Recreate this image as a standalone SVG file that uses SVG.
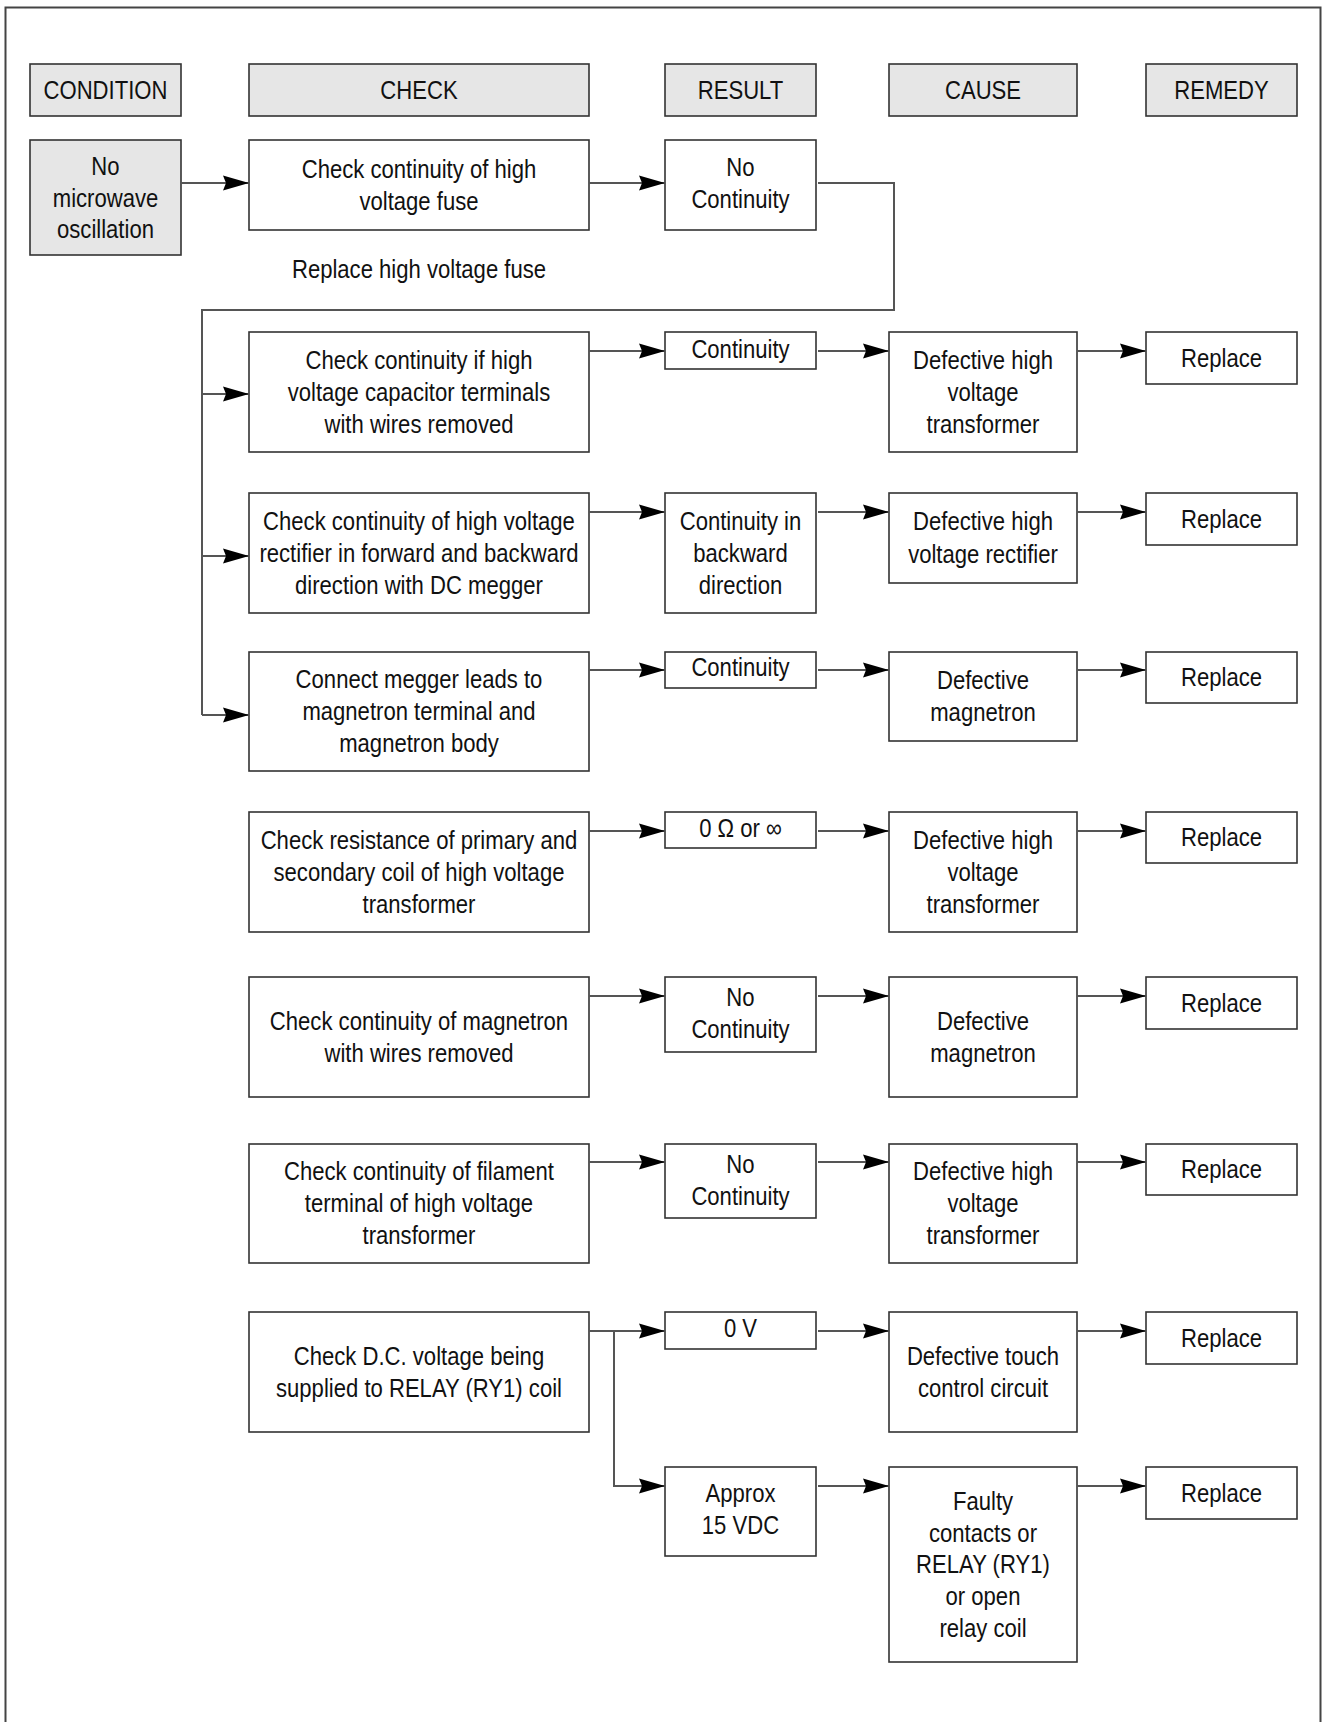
<svg xmlns="http://www.w3.org/2000/svg" width="1322" height="1722" viewBox="0 0 1322 1722">
<defs>
<marker id="arr" markerUnits="userSpaceOnUse" markerWidth="26" markerHeight="16" refX="26" refY="8" orient="auto">
<path d="M0,0.5 L26,8 L0,15.5 L3,8 Z" fill="#000"/>
</marker>
<style>
.b{fill:#fff;stroke:#333;stroke-width:1.6}
.h{fill:#e6e6e6;stroke:#333;stroke-width:1.6}
.t{font-family:"Liberation Sans",Arial,sans-serif;font-size:26px;text-anchor:middle;fill:#111}
.k1{transform:matrix(0.85,0,0,1,15.825,0)}
.k2{transform:matrix(0.85,0,0,1,62.85,0)}
.k3{transform:matrix(0.85,0,0,1,111.075,0)}
.k4{transform:matrix(0.85,0,0,1,147.45,0)}
.k5{transform:matrix(0.85,0,0,1,183.225,0)}
.c{fill:none;stroke:#555;stroke-width:2}
.a{fill:none;stroke:#555;stroke-width:2;marker-end:url(#arr)}
</style>
</defs>
<rect width="1322" height="1722" fill="#fff"/>
<path d="M5.5,1722 V7.5 H1320.5 V1722" fill="none" stroke="#444" stroke-width="2"/>

<g id="hdr-condition"><rect class="h" x="30" y="64" width="151" height="52"/><g class="k1"><text class="t" x="105.5" y="99">CONDITION</text></g></g>
<g id="hdr-check"><rect class="h" x="249" y="64" width="340" height="52"/><g class="k2"><text class="t" x="419" y="99">CHECK</text></g></g>
<g id="hdr-result"><rect class="h" x="665" y="64" width="151" height="52"/><g class="k3"><text class="t" x="740.5" y="99">RESULT</text></g></g>
<g id="hdr-cause"><rect class="h" x="889" y="64" width="188" height="52"/><g class="k4"><text class="t" x="983" y="99">CAUSE</text></g></g>
<g id="hdr-remedy"><rect class="h" x="1146" y="64" width="151" height="52"/><g class="k5"><text class="t" x="1221.5" y="99">REMEDY</text></g></g>

<g id="cond1"><rect class="h" x="30" y="140" width="151" height="115"/><g class="k1"><text class="t" x="105.5" y="175">No</text><text class="t" x="105.5" y="207">microwave</text><text class="t" x="105.5" y="238">oscillation</text></g></g>
<g id="check1"><rect class="b" x="249" y="140" width="340" height="90"/><g class="k2"><text class="t" x="419" y="178">Check continuity of high</text><text class="t" x="419" y="210">voltage fuse</text></g></g>
<g id="res1"><rect class="b" x="665" y="140" width="151" height="90"/><g class="k3"><text class="t" x="740.5" y="176">No</text><text class="t" x="740.5" y="208">Continuity</text></g></g>
<g id="note1"><g class="k2"><text class="t" x="419" y="278">Replace high voltage fuse</text></g></g>

<g id="check2"><rect class="b" x="249" y="332" width="340" height="120"/><g class="k2"><text class="t" x="419" y="369">Check continuity if high</text><text class="t" x="419" y="401">voltage capacitor terminals</text><text class="t" x="419" y="433">with wires removed</text></g></g>
<g id="res2"><rect class="b" x="665" y="332" width="151" height="37"/><g class="k3"><text class="t" x="740.5" y="358">Continuity</text></g></g>
<g id="cause2"><rect class="b" x="889" y="332" width="188" height="120"/><g class="k4"><text class="t" x="983" y="369">Defective high</text><text class="t" x="983" y="401">voltage</text><text class="t" x="983" y="433">transformer</text></g></g>
<g id="rem2"><rect class="b" x="1146" y="332" width="151" height="52"/><g class="k5"><text class="t" x="1221.5" y="367">Replace</text></g></g>

<g id="check3"><rect class="b" x="249" y="493" width="340" height="120"/><g class="k2"><text class="t" x="419" y="530">Check continuity of high voltage</text><text class="t" x="419" y="562">rectifier in forward and backward</text><text class="t" x="419" y="594">direction with DC megger</text></g></g>
<g id="res3"><rect class="b" x="665" y="493" width="151" height="120"/><g class="k3"><text class="t" x="740.5" y="530">Continuity in</text><text class="t" x="740.5" y="562">backward</text><text class="t" x="740.5" y="594">direction</text></g></g>
<g id="cause3"><rect class="b" x="889" y="493" width="188" height="90"/><g class="k4"><text class="t" x="983" y="530">Defective high</text><text class="t" x="983" y="563">voltage rectifier</text></g></g>
<g id="rem3"><rect class="b" x="1146" y="493" width="151" height="52"/><g class="k5"><text class="t" x="1221.5" y="528">Replace</text></g></g>

<g id="check4"><rect class="b" x="249" y="652" width="340" height="119"/><g class="k2"><text class="t" x="419" y="688">Connect megger leads to</text><text class="t" x="419" y="720">magnetron terminal and</text><text class="t" x="419" y="752">magnetron body</text></g></g>
<g id="res4"><rect class="b" x="665" y="652" width="151" height="36"/><g class="k3"><text class="t" x="740.5" y="676">Continuity</text></g></g>
<g id="cause4"><rect class="b" x="889" y="652" width="188" height="89"/><g class="k4"><text class="t" x="983" y="689">Defective</text><text class="t" x="983" y="721">magnetron</text></g></g>
<g id="rem4"><rect class="b" x="1146" y="652" width="151" height="51"/><g class="k5"><text class="t" x="1221.5" y="686">Replace</text></g></g>

<g id="check5"><rect class="b" x="249" y="812" width="340" height="120"/><g class="k2"><text class="t" x="419" y="849">Check resistance of primary and</text><text class="t" x="419" y="881">secondary coil of high voltage</text><text class="t" x="419" y="913">transformer</text></g></g>
<g id="res5"><rect class="b" x="665" y="812" width="151" height="36"/><g class="k3"><text class="t" x="740.5" y="837">0 Ω or ∞</text></g></g>
<g id="cause5"><rect class="b" x="889" y="812" width="188" height="120"/><g class="k4"><text class="t" x="983" y="849">Defective high</text><text class="t" x="983" y="881">voltage</text><text class="t" x="983" y="913">transformer</text></g></g>
<g id="rem5"><rect class="b" x="1146" y="812" width="151" height="51"/><g class="k5"><text class="t" x="1221.5" y="846">Replace</text></g></g>

<g id="check6"><rect class="b" x="249" y="977" width="340" height="120"/><g class="k2"><text class="t" x="419" y="1030">Check continuity of magnetron</text><text class="t" x="419" y="1062">with wires removed</text></g></g>
<g id="res6"><rect class="b" x="665" y="977" width="151" height="75"/><g class="k3"><text class="t" x="740.5" y="1006">No</text><text class="t" x="740.5" y="1038">Continuity</text></g></g>
<g id="cause6"><rect class="b" x="889" y="977" width="188" height="120"/><g class="k4"><text class="t" x="983" y="1030">Defective</text><text class="t" x="983" y="1062">magnetron</text></g></g>
<g id="rem6"><rect class="b" x="1146" y="977" width="151" height="52"/><g class="k5"><text class="t" x="1221.5" y="1012">Replace</text></g></g>

<g id="check7"><rect class="b" x="249" y="1144" width="340" height="119"/><g class="k2"><text class="t" x="419" y="1180">Check continuity of filament</text><text class="t" x="419" y="1212">terminal of high voltage</text><text class="t" x="419" y="1244">transformer</text></g></g>
<g id="res7"><rect class="b" x="665" y="1144" width="151" height="74"/><g class="k3"><text class="t" x="740.5" y="1173">No</text><text class="t" x="740.5" y="1205">Continuity</text></g></g>
<g id="cause7"><rect class="b" x="889" y="1144" width="188" height="119"/><g class="k4"><text class="t" x="983" y="1180">Defective high</text><text class="t" x="983" y="1212">voltage</text><text class="t" x="983" y="1244">transformer</text></g></g>
<g id="rem7"><rect class="b" x="1146" y="1144" width="151" height="51"/><g class="k5"><text class="t" x="1221.5" y="1178">Replace</text></g></g>

<g id="check8"><rect class="b" x="249" y="1312" width="340" height="120"/><g class="k2"><text class="t" x="419" y="1365">Check D.C. voltage being</text><text class="t" x="419" y="1397">supplied to RELAY (RY1) coil</text></g></g>
<g id="res8a"><rect class="b" x="665" y="1312" width="151" height="37"/><g class="k3"><text class="t" x="740.5" y="1337">0 V</text></g></g>
<g id="cause8a"><rect class="b" x="889" y="1312" width="188" height="120"/><g class="k4"><text class="t" x="983" y="1365">Defective touch</text><text class="t" x="983" y="1397">control circuit</text></g></g>
<g id="rem8a"><rect class="b" x="1146" y="1312" width="151" height="52"/><g class="k5"><text class="t" x="1221.5" y="1347">Replace</text></g></g>
<g id="res8b"><rect class="b" x="665" y="1467" width="151" height="89"/><g class="k3"><text class="t" x="740.5" y="1502">Approx</text><text class="t" x="740.5" y="1534">15 VDC</text></g></g>
<g id="cause8b"><rect class="b" x="889" y="1467" width="188" height="195"/><g class="k4"><text class="t" x="983" y="1510">Faulty</text><text class="t" x="983" y="1542">contacts or</text><text class="t" x="983" y="1573">RELAY (RY1)</text><text class="t" x="983" y="1605">or open</text><text class="t" x="983" y="1637">relay coil</text></g></g>
<g id="rem8b"><rect class="b" x="1146" y="1467" width="151" height="52"/><g class="k5"><text class="t" x="1221.5" y="1502">Replace</text></g></g>

<g id="connectors">
<path class="a" d="M181,183 H249"/>
<path class="a" d="M589,183 H665"/>
<path class="c" d="M818,183 H894 V310 H202 V715"/>
<path class="a" d="M202,394 H249"/>
<path class="a" d="M202,556 H249"/>
<path class="a" d="M202,715 H249"/>
<path class="a" d="M589,351 H665"/><path class="a" d="M818,351 H889"/><path class="a" d="M1077,351 H1146"/>
<path class="a" d="M589,512 H665"/><path class="a" d="M818,512 H889"/><path class="a" d="M1077,512 H1146"/>
<path class="a" d="M589,670 H665"/><path class="a" d="M818,670 H889"/><path class="a" d="M1077,670 H1146"/>
<path class="a" d="M589,831 H665"/><path class="a" d="M818,831 H889"/><path class="a" d="M1077,831 H1146"/>
<path class="a" d="M589,996 H665"/><path class="a" d="M818,996 H889"/><path class="a" d="M1077,996 H1146"/>
<path class="a" d="M589,1162 H665"/><path class="a" d="M818,1162 H889"/><path class="a" d="M1077,1162 H1146"/>
<path class="a" d="M589,1331 H665"/><path class="a" d="M818,1331 H889"/><path class="a" d="M1077,1331 H1146"/>
<path class="a" d="M614,1331 V1486 H665"/><path class="a" d="M818,1486 H889"/><path class="a" d="M1077,1486 H1146"/>
</g>
</svg>
